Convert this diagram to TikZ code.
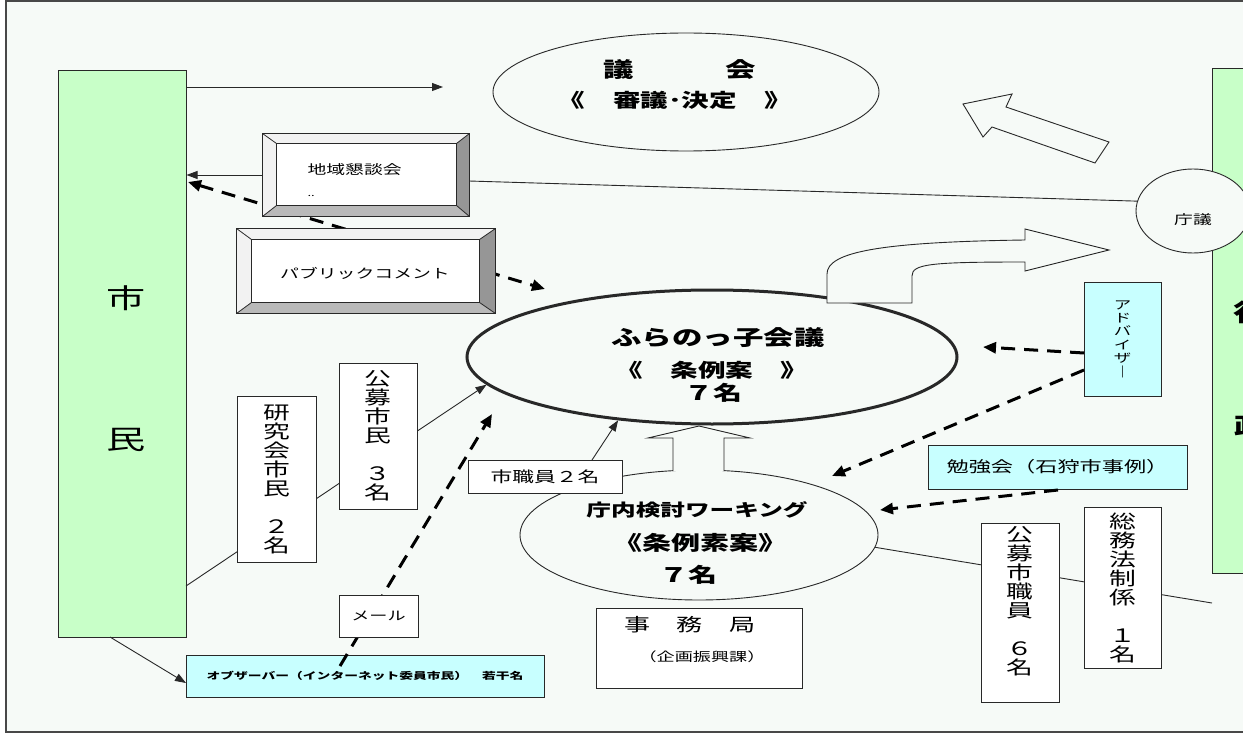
\documentclass[tikz,border=0pt]{standalone}
\usepackage{fontspec}
\usetikzlibrary{arrows.meta,shapes.geometric}
\newfontfamily\jp[FakeStretch=1.45]{Noto Sans CJK JP}
\definecolor{bgc}{RGB}{246,250,247}
\definecolor{shgreen}{RGB}{200,255,200}
\definecolor{shcyan}{RGB}{200,255,255}
\definecolor{bevdark}{RGB}{150,150,150}
\definecolor{bevmid}{RGB}{185,185,185}
\definecolor{bevlight}{RGB}{242,242,242}
\definecolor{edge}{RGB}{40,40,40}
\begin{document}
\begin{tikzpicture}[x=1pt,y=-1pt,
  jt/.style={font=\jp\fontsize{#1}{#1}\selectfont},
  bjt/.style={font=\jp\bfseries\fontsize{#1}{#1}\selectfont},
  box/.style={draw=edge,line width=1pt,inner sep=0pt,rectangle},
  greenbox/.style={box,fill=shgreen},
  cyanbox/.style={box,fill=shcyan},
  whitebox/.style={box,fill=white},
  oval/.style={ellipse,draw=edge,line width=0.9pt,fill=bgc,inner sep=0pt},
  link/.style={draw=edge,line width=0.9pt},
  arr/.style={link,-{Triangle[length=11pt,width=8pt]}},
  dasharr/.style={draw=black,line width=3pt,dash pattern=on 14pt off 9pt,-{Triangle[length=13pt,width=11pt]}},
  hollow/.style={draw=edge,line width=0.9pt,fill=bgc,line join=miter},
  vcol/.style={align=center,font=\jp\fontsize{18.5}{19}\selectfont},
]
\clip (0,0) rectangle (1243,733);
\fill[white] (0,0) rectangle (1243,733);
\draw[edge!85,line width=1.2pt,fill=bgc] (6,1) rectangle (1270,732);

% green side boxes
\node[greenbox,minimum width=128pt,minimum height=566pt] (shimin) at (122,354) {};
\node[greenbox,minimum width=58pt,minimum height=504pt] (gyosei) at (1241,321) {};

% free connector ends
\coordinate (sA) at (186,87);
\coordinate (gIn) at (443,87);
\coordinate (cA) at (469,181);
\coordinate (sB) at (186,586);
\coordinate (dL) at (188,182);
\coordinate (dR) at (545,289);
\coordinate (gyA) at (1212,603);

% background connectors
\draw[arr] (sA) -- (gIn);
\draw[dasharr,{Triangle[length=13pt,width=11pt]}-{Triangle[length=13pt,width=11pt]}] (dL) -- (dR);

% ellipses
\node[oval,minimum width=386pt,minimum height=118pt] (gikai) at (686,92) {};
\node[oval,minimum width=114pt,minimum height=84pt] (chogi) at (1193,211) {};
\draw[link] (cA) -- (chogi.170);
\node[oval,line width=3pt,minimum width=490pt,minimum height=134pt] (fura) at (712,357) {};
\node[oval,minimum width=358pt,minimum height=130pt] (chonai) at (699,535) {};
\draw[link] (chonai.-4) -- (gyA);
\draw[arr] (sB) -- (fura.187);

% bevel boxes
\node[whitebox,minimum width=206pt,minimum height=82pt] (chiiki) at (366,175) {};
\node[box,draw=none,minimum width=179pt,minimum height=61pt] (chiikiIn) at (366.5,174.5) {};
\fill[bevlight] (chiiki.north west) -- (chiiki.north east) -- (chiikiIn.north east) -- (chiikiIn.north west) -- cycle;
\fill[bevlight] (chiiki.north west) -- (chiikiIn.north west) -- (chiikiIn.south west) -- (chiiki.south west) -- cycle;
\fill[bevdark] (chiiki.north east) -- (chiiki.south east) -- (chiikiIn.south east) -- (chiikiIn.north east) -- cycle;
\fill[bevmid] (chiiki.south west) -- (chiiki.south east) -- (chiikiIn.south east) -- (chiikiIn.south west) -- cycle;
\draw[edge,line width=0.8pt] (chiiki.north west) -- (chiikiIn.north west) (chiiki.north east) -- (chiikiIn.north east)
  (chiiki.south west) -- (chiikiIn.south west) (chiiki.south east) -- (chiikiIn.south east);
\draw[edge,line width=1pt,fill=white] (chiikiIn.north west) rectangle (chiikiIn.south east);
\draw[edge,line width=1.2pt] (chiiki.north west) rectangle (chiiki.south east);

\node[whitebox,minimum width=258pt,minimum height=84pt] (public) at (366,271) {};
\node[box,draw=none,minimum width=227pt,minimum height=62pt] (publicIn) at (365.5,271) {};
\fill[bevlight] (public.north west) -- (public.north east) -- (publicIn.north east) -- (publicIn.north west) -- cycle;
\fill[bevlight] (public.north west) -- (publicIn.north west) -- (publicIn.south west) -- (public.south west) -- cycle;
\fill[bevdark] (public.north east) -- (public.south east) -- (publicIn.south east) -- (publicIn.north east) -- cycle;
\fill[bevmid] (public.south west) -- (public.south east) -- (publicIn.south east) -- (publicIn.south west) -- cycle;
\draw[edge,line width=0.8pt] (public.north west) -- (publicIn.north west) (public.north east) -- (publicIn.north east)
  (public.south west) -- (publicIn.south west) (public.south east) -- (publicIn.south east);
\draw[edge,line width=1pt,fill=white] (publicIn.north west) rectangle (publicIn.south east);
\draw[edge,line width=1.2pt] (public.north west) rectangle (public.south east);

% vertical boxes
\node[whitebox,vcol,minimum width=79pt,minimum height=166pt] (kenkyu) at (276.5,479) {研\\究\\会\\市\\民\\[19pt]２\\名};
\node[whitebox,vcol,minimum width=78pt,minimum height=146pt] (kshimin) at (378,436) {公\\募\\市\\民\\[19pt]３\\名};
\node[whitebox,minimum width=78pt,minimum height=179pt] (kshoku) at (1020,612.5) {};
\node[vcol] (kshokuT) at (1020,601) {公\\募\\市\\職\\員\\[19pt]６\\名};
\node[whitebox,vcol,minimum width=77pt,minimum height=161pt] (soumu) at (1122.5,587.5) {総\\務\\法\\制\\係\\[19pt]１\\名};
\node[cyanbox,align=center,font=\jp\fontsize{12}{13.4}\selectfont,minimum width=77pt,minimum height=114pt] (advisor) at (1122.5,339) {ア\\ド\\バ\\イ\\ザ\\｜};
\node[cyanbox,jt=15.3,minimum width=259pt,minimum height=44pt] (benkyo) at (1057.5,467) {勉強会（石狩市事例）};
\node[whitebox,jt=15,minimum width=154pt,minimum height=33pt] (shishoku) at (545,476.5) {市職員２名};
\node[cyanbox,bjt=9.5,minimum width=358pt,minimum height=42pt] (observer) at (365,676) {オブザーバー（インターネット委員市民）　若干名};
\coordinate (mA) at (340,666);
\coordinate (mB) at (492,414);
\draw[dasharr] (mA) -- (mB);
\node[whitebox,jt=12.5,minimum width=79pt,minimum height=42pt] (mail) at (378.5,616) {メール};
\node[whitebox,minimum width=206pt,minimum height=80pt] (jimu) at (699,648) {};

% hollow arrows
\draw[hollow] (963,104) -- (1012,94) -- (1006,107) -- (1109,142) -- (1095,163) -- (992,127) -- (983,137) -- cycle;
\draw[hollow] (827,303) -- (912,303) -- (912,276) .. controls (912,264) and (930,262) .. (1025,262) -- (1025,271) -- (1109,250) -- (1025,229) -- (1025,240) .. controls (880,242) and (827,252) .. (827,274) -- cycle;
\fill[bgc] (673,471) -- (673,438) -- (648,438) -- (699,426) -- (750,438) -- (724,438) -- (724,471) -- cycle;
\draw[edge,line width=0.9pt] (673,471) -- (673,438) -- (648,438) -- (699,426) -- (750,438) -- (724,438) -- (724,471);

% foreground connectors
\coordinate (aA) at (1084,353);
\coordinate (aAe) at (983,347);
\coordinate (aB) at (1084,370);
\coordinate (aBe) at (832,476);
\coordinate (bA) at (1058,490);
\coordinate (bAe) at (880,510);
\coordinate (shA) at (592,460);
\coordinate (sC) at (110,637);
\coordinate (oA) at (186,683);
\draw[dasharr] (aA) -- (aAe);
\draw[dasharr] (aB) -- (aBe);
\draw[dasharr] (bA) -- (bAe);
\draw[arr] (shA) -- (fura.214);
\draw[arr] (chiiki.west) -- (shimin.east |- chiiki.west);
\draw[arr] (sC) -- (oA);

% texts
\node[jt=27] (shiT) at (126,298) {市};
\node[jt=27] (minT) at (126,440) {民};
\node[bjt=21] (gikaiT1) at (680,70) {議　　　会};
\node[bjt=19] (gikaiT2) at (675,100) {《　審議･決定　》};
\node[jt=13] (chogiT) at (1193,220) {庁議};
\node[jt=13,anchor=west] (chiikiT) at (304,170) {地域懇談会};
\node[jt=9,anchor=west] (chiikiD) at (304,196) {..};
\node[jt=13] (publicT) at (365,273) {パブリックコメント};
\node[bjt=21] (furaT1) at (718,338) {ふらのっ子会議};
\node[bjt=19] (furaT2) at (712,370) {《　条例案　》};
\node[bjt=20] (furaT3) at (713,393) {７名};
\node[bjt=17] (chonaiT1) at (697,510) {庁内検討ワーキング};
\node[bjt=20] (chonaiT2) at (700,543) {《条例素案》};
\node[bjt=20] (chonaiT3) at (688,575) {７名};
\node[jt=18] (jimuT1) at (690,625) {事　務　局};
\node[jt=12.5] (jimuT2) at (702,657) {（企画振興課）};
\node[bjt=24,anchor=west,inner sep=0pt] (gyoT1) at (1233,312) {行};
\node[bjt=24,anchor=west,inner sep=0pt] (gyoT2) at (1234,426) {政};
\end{tikzpicture}
\end{document}
